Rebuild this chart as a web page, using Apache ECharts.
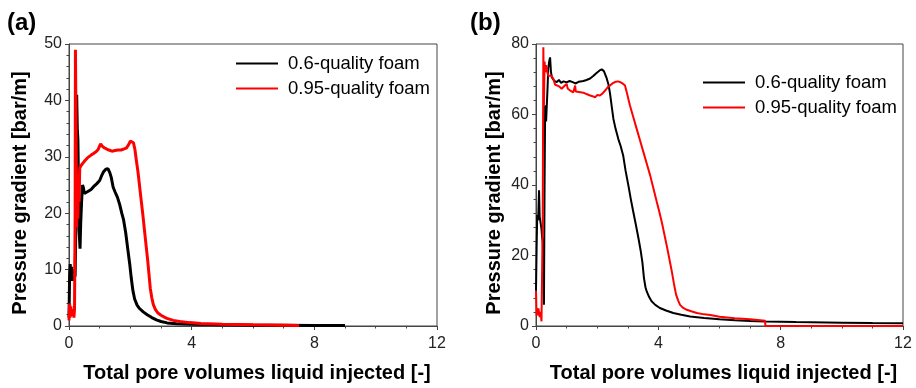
<!DOCTYPE html>
<html>
<head>
<meta charset="utf-8">
<script src="https://cdn.jsdelivr.net/npm/echarts@6/dist/echarts.min.js"></script>
<style>
  html, body { margin: 0; padding: 0; background: #fff; }
  #main { width: 916px; height: 388px; }
</style>
</head>
<body>
<div id="main"></div>
<script>
// panel labels / legend names / x ticks
const panels = ['(a)', '(b)'];
const seriesNames = ['0.6-quality foam', '0.95-quality foam'];
const xTicks = [0, 4, 8, 12];
const yMaxA = 50, yMaxB = 80;

// (a) 0.6-quality foam: [PV injected, pressure gradient bar/m]
const a06 = [
  [0, 1.5], [0.02, 9], [0.04, 11], [0.06, 8], [0.08, 10.5], [0.11, 8], [0.14, 10], [0.17, 8.5],
  [0.2, 9], [0.23, 20], [0.25, 41], [0.27, 35], [0.29, 33], [0.31, 25], [0.33, 17], [0.36, 13.7],
  [0.38, 18], [0.41, 22], [0.44, 25], [0.47, 24.5], [0.5, 23.5], [0.55, 23.2], [0.6, 23.8],
  [0.66, 23.7], [0.72, 24.2], [0.8, 24.7], [0.9, 25.2], [1.0, 25.8], [1.06, 26.6], [1.12, 27.3],
  [1.2, 27.8], [1.27, 27.9], [1.33, 27.2], [1.38, 26.3], [1.44, 24.6], [1.5, 23.8], [1.58, 22.8],
  [1.65, 21.6], [1.72, 20], [1.78, 18.8], [1.85, 16.5], [1.92, 13.5], [1.98, 11], [2.03, 8.5],
  [2.08, 6.4], [2.14, 4.8], [2.22, 3.7], [2.3, 3.1], [2.42, 2.5], [2.55, 2.0], [2.7, 1.5],
  [2.85, 1.1], [3.0, 0.8], [3.2, 0.55], [3.5, 0.4], [4.0, 0.3], [5, 0.2], [6, 0.15], [7, 0.12],
  [8, 0.1], [9, 0.1]
];

// (a) 0.95-quality foam
const a095 = [
  [0, 1], [0.02, 4], [0.04, 1.5], [0.06, 3.5], [0.08, 2], [0.1, 3], [0.12, 1.8], [0.14, 2.5],
  [0.16, 1.5], [0.18, 3], [0.2, 20], [0.21, 49], [0.23, 35], [0.25, 17.5], [0.27, 26], [0.29, 19],
  [0.31, 27], [0.33, 22], [0.35, 28], [0.4, 28.5], [0.45, 28.8], [0.5, 29.2], [0.55, 29.5],
  [0.6, 29.8], [0.66, 30.0], [0.72, 30.3], [0.8, 30.6], [0.88, 30.9], [0.95, 31.3], [1.0, 31.6],
  [1.03, 32.3], [1.08, 31.9], [1.15, 31.6], [1.22, 31.4], [1.3, 31.2], [1.4, 31.0], [1.5, 31.1],
  [1.6, 31.2], [1.7, 31.2], [1.8, 31.4], [1.88, 31.6], [1.95, 32.2], [2.0, 32.8], [2.05, 33.1],
  [2.1, 32.5], [2.15, 31.3], [2.19, 29.6], [2.25, 27.3], [2.3, 24.9], [2.36, 22], [2.41, 19.6],
  [2.49, 15.5], [2.57, 11.4], [2.65, 6.7], [2.7, 5], [2.75, 3.8], [2.82, 2.9], [2.9, 2.3],
  [3.0, 1.9], [3.17, 1.4], [3.4, 1.0], [3.61, 0.8], [3.93, 0.6], [4.3, 0.45], [5, 0.3],
  [6, 0.2], [7, 0.15], [7.5, 0.1]
];

// (b) 0.6-quality foam
const b06 = [
  [0, 10], [0.02, 22], [0.04, 31.5], [0.07, 30], [0.1, 38.5], [0.12, 31], [0.15, 31], [0.18, 27.5],
  [0.2, 25], [0.22, 24], [0.24, 18], [0.26, 6], [0.28, 40], [0.3, 62.6], [0.33, 58], [0.35, 57.9],
  [0.38, 68], [0.4, 73], [0.43, 75], [0.46, 76.2], [0.49, 72], [0.52, 70.5], [0.56, 71], [0.6, 69.5],
  [0.68, 69.2], [0.75, 69.8], [0.82, 69.0], [0.9, 69.4], [1.0, 69.1], [1.1, 69.5], [1.22, 69.1],
  [1.3, 68.8], [1.4, 69.3], [1.55, 69.5], [1.65, 69.8], [1.77, 70.2], [1.88, 71], [1.98, 71.8],
  [2.08, 72.5], [2.15, 72.8], [2.22, 72.3], [2.31, 70.3], [2.37, 68.5], [2.42, 66], [2.48, 62],
  [2.53, 58.8], [2.6, 56], [2.69, 53.1], [2.77, 51], [2.85, 48.4], [2.93, 44], [3.02, 39.9],
  [3.1, 36], [3.18, 32.4], [3.27, 28.5], [3.35, 24.9], [3.42, 21.5], [3.48, 18], [3.53, 13.6],
  [3.58, 11], [3.62, 9.8], [3.7, 8.2], [3.78, 7.0], [3.9, 6], [4.05, 5.1], [4.25, 4.4],
  [4.49, 3.7], [4.75, 3.2], [5.04, 2.7], [5.5, 2.3], [6.0, 1.9], [6.5, 1.65], [7, 1.45],
  [7.5, 1.3], [8, 1.2], [8.5, 1.1], [9, 1.05], [9.5, 1.0], [10, 0.95], [11, 0.85], [12, 0.8]
];

// (b) 0.95-quality foam
const b095 = [
  [0, 10], [0.02, 3], [0.04, 5], [0.06, 3], [0.08, 5], [0.1, 4.5], [0.12, 2.5], [0.15, 4],
  [0.18, 1.3], [0.2, 1.2], [0.22, 30], [0.24, 79.1], [0.26, 62.6], [0.28, 75], [0.3, 72],
  [0.33, 74], [0.36, 72.4], [0.4, 71], [0.45, 70.5], [0.5, 71], [0.57, 70.1], [0.62, 68.5],
  [0.68, 68.2], [0.75, 68], [0.84, 67.3], [0.92, 68], [1.0, 68.7], [1.04, 67.3], [1.12, 66.8],
  [1.22, 66.3], [1.26, 66.5], [1.28, 68.2], [1.3, 66.5], [1.4, 66.4], [1.55, 66.2], [1.65, 65.8],
  [1.77, 65.4], [1.85, 65.2], [1.93, 64.9], [2.0, 65.5], [2.09, 65.4], [2.18, 66], [2.26, 66.8],
  [2.35, 67.8], [2.42, 68.2], [2.5, 68.8], [2.58, 69.2], [2.67, 69.4], [2.75, 69.2], [2.83, 68.8],
  [2.91, 68.2], [2.99, 65.5], [3.07, 62.6], [3.18, 59.3], [3.29, 56.0], [3.4, 52.7], [3.51, 49.4],
  [3.62, 46.1], [3.73, 42.8], [3.84, 39], [3.95, 35.2], [4.03, 32.5], [4.11, 29.6], [4.19, 26.3],
  [4.27, 23], [4.35, 19.5], [4.44, 15.5], [4.51, 12], [4.58, 8.9], [4.65, 7.2], [4.71, 6.0],
  [4.8, 5.2], [4.93, 4.6], [5.1, 4.1], [5.26, 3.7], [5.5, 3.3], [5.7, 3.1], [6.0, 2.6],
  [6.5, 2.2], [7.0, 1.9], [7.49, 1.5], [7.5, 0], [12, 0]
];

const FONT = 'Liberation Sans, Arial, sans-serif';
const AXIS_COLOR = '#444';
const colors = ['#000000', '#ff0000'];

function xAxisFor(gi) {
  return {
    gridIndex: gi, type: 'value', min: xTicks[0], max: xTicks[xTicks.length - 1], interval: 4,
    name: 'Total pore volumes liquid injected [-]', nameLocation: 'middle', nameGap: 37,
    nameTextStyle: { fontFamily: FONT, fontSize: 20, fontWeight: 'bold', color: '#000', padding: [0, 0, 0, 8] },
    axisLine: { lineStyle: { color: AXIS_COLOR, width: 1 } },
    axisTick: { inside: false, length: 4, lineStyle: { color: AXIS_COLOR } },
    minorTick: { show: true, splitNumber: 4, length: 2.5, lineStyle: { color: AXIS_COLOR } },
    axisLabel: { fontFamily: FONT, fontSize: 16, color: '#222', margin: 10 },
    splitLine: { show: false }
  };
}

function yAxisFor(gi, max, interval, gap) {
  return {
    gridIndex: gi, type: 'value', min: 0, max: max, interval: interval,
    name: 'Pressure gradient [bar/m]', nameLocation: 'middle', nameGap: gap,
    nameTextStyle: { fontFamily: FONT, fontSize: 20, fontWeight: 'bold', color: '#000', padding: [0, 16, 0, 0] },
    axisLine: { show: true, lineStyle: { color: AXIS_COLOR, width: 1 } },
    axisTick: { show: true, inside: false, length: 4, lineStyle: { color: AXIS_COLOR } },
    minorTick: { show: true, splitNumber: 5, length: 2.5, lineStyle: { color: AXIS_COLOR } },
    axisLabel: { fontFamily: FONT, fontSize: 16, color: '#222', margin: 7 },
    splitLine: { show: false }
  };
}

function line(name, gi, data, width, color) {
  return {
    name: name, type: 'line', xAxisIndex: gi, yAxisIndex: gi, data: data,
    symbol: 'none', smooth: false, clip: true, animation: false,
    lineStyle: { color: color, width: width }, itemStyle: { color: color }
  };
}

function legendFor(gi, left, top) {
  return {
    show: true, orient: 'vertical', left: left, top: top, padding: 0,
    itemWidth: 42, itemHeight: 18, itemGap: 6,
    data: seriesNames.map(n => n + (gi ? ' ' : '')),
    textStyle: { fontFamily: FONT, fontSize: 18.5, color: '#000', padding: [0, 0, 0, 5] },
    itemStyle: { opacity: 0 },
    lineStyle: { width: 2, opacity: 1 }
  };
}

const chart = echarts.init(document.getElementById('main'), null, { renderer: 'canvas' });
chart.setOption({
  animation: false,
  backgroundColor: '#fff',
  title: [
    { text: panels[0], left: 2, top: 6, textStyle: { fontFamily: FONT, fontSize: 24, fontWeight: 'bold', color: '#000' } },
    { text: panels[1], left: 465, top: 6, textStyle: { fontFamily: FONT, fontSize: 24, fontWeight: 'bold', color: '#000' } }
  ],
  grid: [
    { left: 69, top: 44, width: 368, height: 284, show: true, borderColor: AXIS_COLOR, borderWidth: 1, backgroundColor: 'transparent' },
    { left: 536, top: 44, width: 367, height: 284, show: true, borderColor: AXIS_COLOR, borderWidth: 1, backgroundColor: 'transparent' }
  ],
  legend: [legendFor(0, 235, 54), legendFor(1, 702, 73)],
  xAxis: [xAxisFor(0), xAxisFor(1)],
  yAxis: [yAxisFor(0, yMaxA, 10, 39), yAxisFor(1, yMaxB, 20, 32)],
  series: [
    line(seriesNames[0], 0, a06, 3, colors[0]),
    line(seriesNames[1], 0, a095, 3, colors[1]),
    line(seriesNames[0] + ' ', 1, b06, 2, colors[0]),
    line(seriesNames[1] + ' ', 1, b095, 2, colors[1])
  ]
});
</script>
</body>
</html>
